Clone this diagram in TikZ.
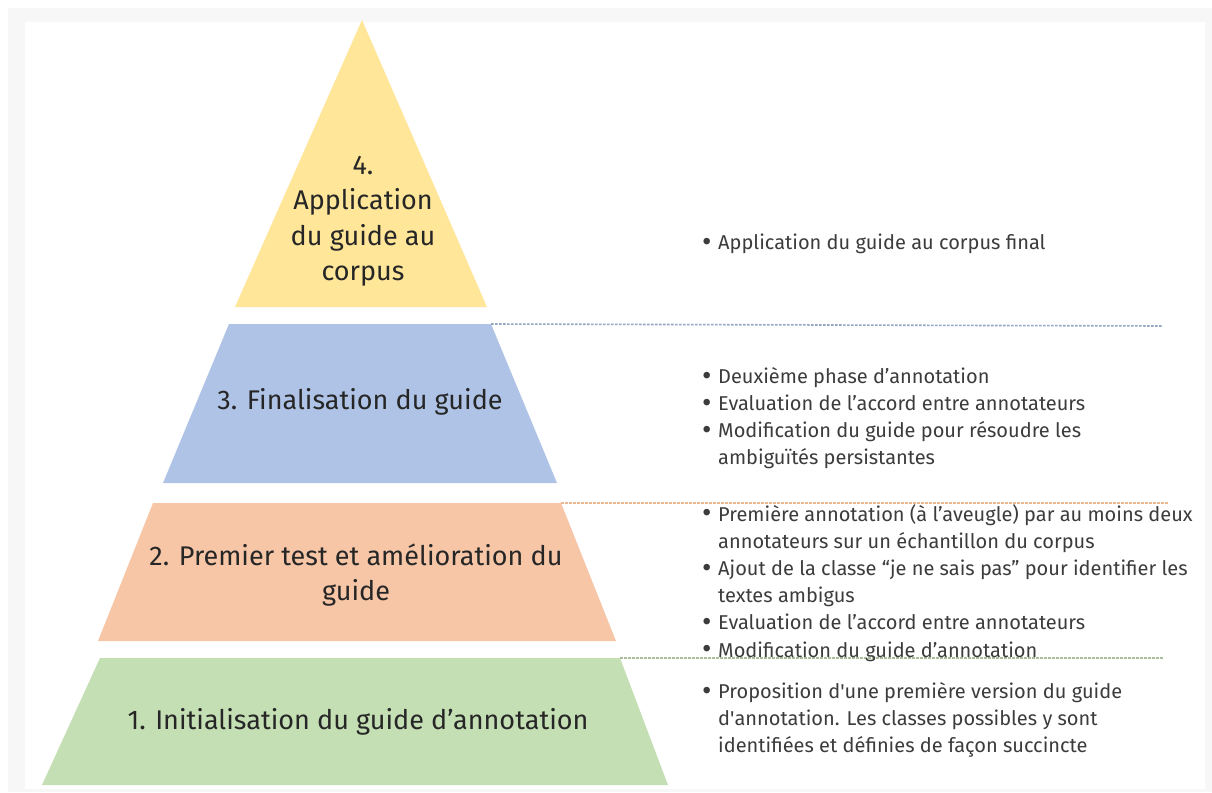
\documentclass[tikz,border=0pt]{standalone}
\usepackage{fontspec}
\usepackage{xcolor}
\setmainfont{Fira Sans}
\definecolor{jaune}{HTML}{FFE699}
\definecolor{bleu}{HTML}{AFC3E6}
\definecolor{orange}{HTML}{F6C6A7}
\definecolor{vert}{HTML}{C5DFB4}
\definecolor{texte}{HTML}{262626}
\newcommand{\puce}{\makebox[16pt][l]{\raisebox{-1.8pt}{\fontsize{29}{0}\selectfont\textbullet}}}
\tikzstyle{niveau} = [font=\fontsize{27}{35.5}\selectfont, text=texte, align=center, inner sep=0]
\tikzstyle{liste} = [font=\fontsize{20}{27.2}\selectfont, text=texte!90, align=left, anchor=north west, inner sep=0]

\begin{document}
\begin{tikzpicture}[x=1pt, y=-1pt]
	\useasboundingbox (0,0) rectangle (1212,792);
	\fill[white] (0,0) rectangle (1212,792);
	\fill[black!3] (8,8) rectangle (1212,792);
	\fill[white] (25,22) rectangle (1205,789);

\coordinate (c4) at (362,20);
\coordinate (c3h) at (491,324);
\coordinate (c2h) at (561,503);
\coordinate (c1h) at (620,658);
\coordinate (f3) at (1162,326);
\coordinate (f2) at (1168,503);
\coordinate (f1) at (1163,658);

\fill[jaune] (c4) -- (487,307) -- (235,307) -- cycle;
\fill[bleu] (229,324) -- (c3h) -- (557,483) -- (163,483) -- cycle;
\fill[orange] (153,503) -- (c2h) -- (616,641) -- (98,641) -- cycle;
\fill[vert] (100,658) -- (c1h) -- (668,785) -- (42,785) -- cycle;

\foreach \from/\to/\col in {c3h/f3/bleu!85!black, c2h/f2/orange!80!brown, c1h/f1/vert!85!black}
{
	\draw[\col, line width=1.6pt, dash pattern=on 2.5pt off 1.5pt] (\from) -- (\to);
}

\node[niveau] (n4) at (363,221) {4.\\Application\\du guide au\\corpus};
\node[niveau] (n3) at (360,402) {3. Finalisation du guide};
\node[niveau] (n2) at (356,575) {2. Premier test et amélioration du\\guide};
\node[niveau] (n1) at (358,722) {1. Initialisation du guide d’annotation};

\node[liste] (l4) at (702,234) {\puce Application du guide au corpus final};
\node[liste] (l3) at (702,367) {\puce Deuxième phase d’annotation\\\puce Evaluation de l’accord entre annotateurs\\\puce Modification du guide pour résoudre les\\\hspace*{16pt}ambiguïtés persistantes};
\node[liste] (l2) at (702,504) {\puce Première annotation (à l’aveugle) par au moins deux\\\hspace*{16pt}annotateurs sur un échantillon du corpus\\\puce Ajout de la classe “je ne sais pas” pour identifier les\\\hspace*{16pt}textes ambigus\\\puce Evaluation de l’accord entre annotateurs\\\puce Modification du guide d’annotation};
\node[liste] (l1) at (702,682) {\puce Proposition d\textquotesingle une première version du guide\\\hspace*{16pt}d\textquotesingle annotation. Les classes possibles y sont\\\hspace*{16pt}identifiées et définies de façon succincte};

\end{tikzpicture}
\end{document}
